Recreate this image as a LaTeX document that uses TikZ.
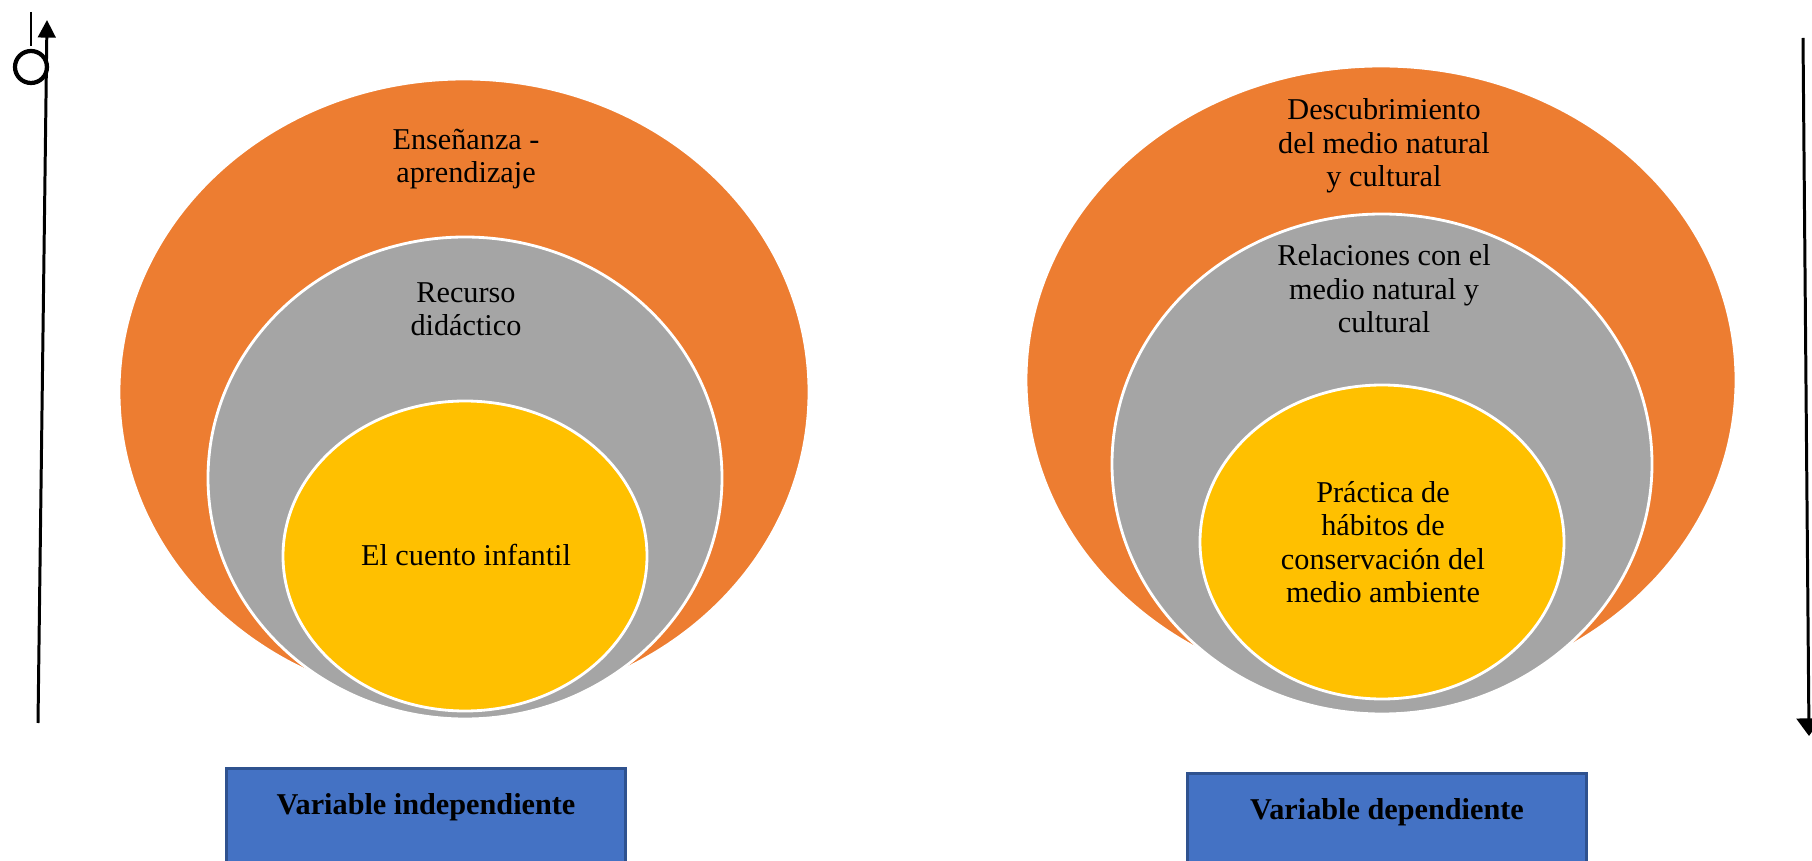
\documentclass[tikz,border=0pt]{standalone}
\usepackage{fontspec}
\setmainfont{Liberation Serif}
\usepackage{xcolor}
\usetikzlibrary{arrows.meta,positioning,calc}
\definecolor{naranja}{HTML}{ED7D31}
\definecolor{gris}{HTML}{A5A5A5}
\definecolor{amarillo}{HTML}{FFC000}
\definecolor{azul}{HTML}{4472C4}
\definecolor{azulborde}{HTML}{2F528F}
\tikzset{capa/.style={draw=white,line width=0.8pt},
  etiqueta/.style={align=center,inner sep=0pt,font=\fontsize{8.6}{9.5}\selectfont},
  caja/.style={draw=azulborde,fill=azul,anchor=north,minimum width=3.98cm,
    text height=9pt,text depth=16pt,inner ysep=4pt,font=\fontsize{8.6}{9.5}\selectfont\bfseries}}

\begin{document}
\begin{tikzpicture}[x=0.01cm, y=-0.01cm, >={Triangle[width=5pt,length=5pt]}, line width=0.85pt]
\useasboundingbox (0,0) rectangle (1812,861);
    % izquierda
    \fill[naranja,capa] (464,392) ellipse [x radius=345, y radius=313];
    \fill[gris,capa] (465,478) ellipse [x radius=257, y radius=241];
    \fill[amarillo,capa] (465,556) ellipse [x radius=182, y radius=155];
    \node[etiqueta] (A) at (466,159) {Enseñanza -\\aprendizaje};
    \node[etiqueta] (B) at (466,309) {Recurso\\didáctico};
    \node[etiqueta] (C) at (466,555) {El cuento infantil};
    % derecha
    \fill[naranja,capa] (1381,380) ellipse [x radius=355, y radius=314];
    \fill[gris,capa] (1382,464) ellipse [x radius=270, y radius=250];
    \fill[amarillo,capa] (1382,542) ellipse [x radius=182, y radius=157];
    \node[etiqueta] (D) at (1384,146) {Descubrimiento\\del medio natural\\y cultural};
    \node[etiqueta] (E) at (1384,289) {Relaciones con el\\medio natural y\\cultural};
    \node[etiqueta] (F) at (1383,542) {Práctica de\\hábitos de\\conservación del\\medio ambiente};

    \node[caja] (VI) at (426,767) {Variable independiente};
    \node[caja] (VD) at (1387,772) {Variable dependiente};

    \coordinate (I1) at (38,723);
    \coordinate (I2) at (47,20);
    \coordinate (D1) at (1803,38);
    \coordinate (D2) at (1809,736);
    \draw[->] (I1) -- (I2);
    \draw[->,>={Triangle[width=7pt,length=5pt]}] (D1) -- (D2);

    \draw[line width=1.2pt] (31,67) circle [radius=16];
    \draw[line width=0.6pt] (31,12) -- (31,46);
\end{tikzpicture}
\end{document}
